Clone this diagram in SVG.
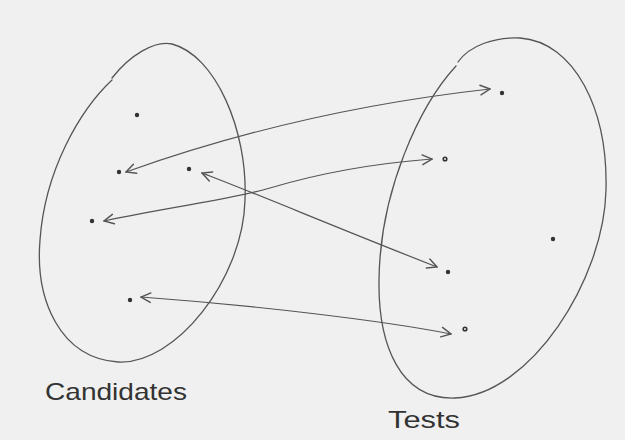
<svg xmlns="http://www.w3.org/2000/svg" width="625" height="440" viewBox="0 0 625 440">
<style>
.set{fill:none;stroke:#555;stroke-width:1.3;stroke-linecap:round}
.con{fill:none;stroke:#555;stroke-width:1.2;stroke-linecap:round}
.dot{fill:#333}
.odot{fill:none;stroke:#333;stroke-width:1.6}
.lbl{font-family:"Liberation Sans",Arial,sans-serif;font-size:24px;fill:#333;font-weight:normal}
</style>
<defs>
<marker id="ah" viewBox="0 0 10 10" refX="9" refY="5" markerWidth="12" markerHeight="12" markerUnits="userSpaceOnUse" orient="auto-start-reverse">
<path d="M1,1 L9,5 L1,9" fill="none" stroke="#555" stroke-width="1.2" stroke-linecap="round"/>
</marker>
</defs>
<rect width="625" height="440" fill="#f0f0f0"/>
<g id="candidates">
<path class="set" d="M112,78 C130,55 155,40 172,44 C215,55 248,130 245,200 C243,280 175,365 118,362 C60,358 35,300 40,240 C45,170 80,110 112,80"/>
<circle class="dot" cx="137" cy="115" r="2.2"/>
<circle class="dot" cx="119" cy="172" r="2.2"/>
<circle class="dot" cx="189" cy="169" r="2.2"/>
<circle class="dot" cx="92" cy="221" r="2.2"/>
<circle class="dot" cx="130" cy="300" r="2.2"/>
<text class="lbl" x="45" y="400" textLength="142" lengthAdjust="spacingAndGlyphs">Candidates</text>
</g>
<g id="tests">
<path class="set" d="M458,62 C470,45 495,37 520,38 C575,42 608,110 606,190 C604,280 530,395 455,398 C400,400 378,345 379,280 C380,190 420,105 456,66"/>
<circle class="dot" cx="502" cy="93" r="2.2"/>
<circle class="odot" cx="445" cy="159" r="1.8"/>
<circle class="dot" cx="553" cy="239" r="2.2"/>
<circle class="dot" cx="448" cy="272" r="2.2"/>
<circle class="odot" cx="465" cy="329" r="1.8"/>
<text class="lbl" x="388" y="428" textLength="72" lengthAdjust="spacingAndGlyphs">Tests</text>
</g>
<g id="connectors">
<path class="con" marker-start="url(#ah)" marker-end="url(#ah)" d="M126,172 Q300,110 490,89"/>
<path class="con" marker-start="url(#ah)" marker-end="url(#ah)" d="M104,221 C180,205 230,200 270,188 C320,173 380,163 432,159"/>
<path class="con" marker-start="url(#ah)" marker-end="url(#ah)" d="M202,173 C260,195 330,225 437,267"/>
<path class="con" marker-start="url(#ah)" marker-end="url(#ah)" d="M141,297 C250,305 380,320 451,334"/>
</g>
</svg>
